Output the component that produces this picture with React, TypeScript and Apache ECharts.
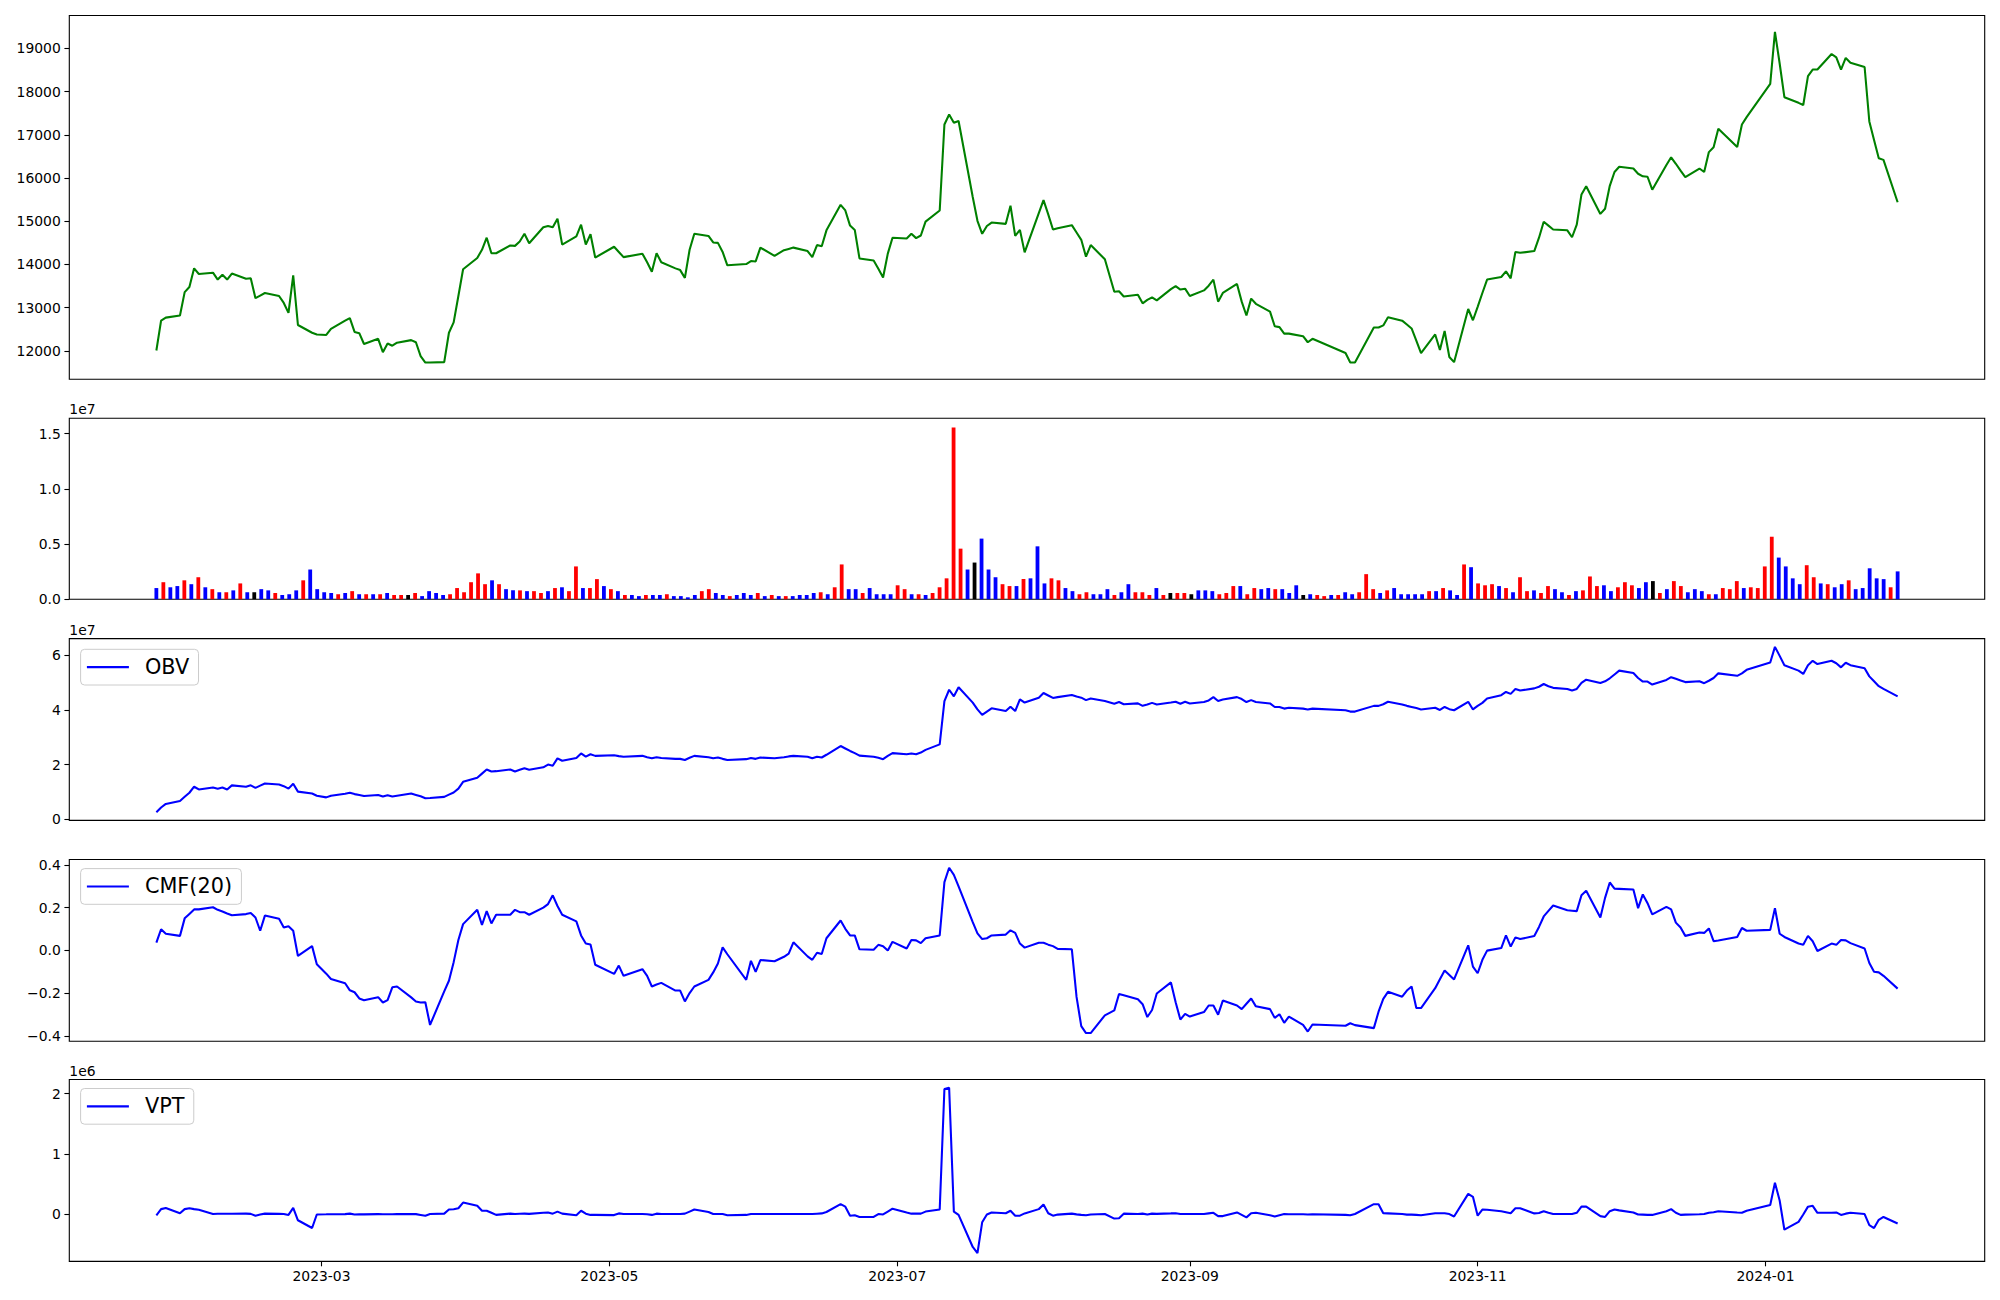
import React, { useEffect, useRef } from "react";
import * as echarts from "echarts";

// ---------- data ----------
const FIRST_DAY = "2023-01-25";
const LAST_DAY = "2024-01-29";
const KRX_HOLIDAYS = [
  "2023-03-01", "2023-05-01", "2023-05-05", "2023-05-29", "2023-06-06",
  "2023-08-15", "2023-09-28", "2023-09-29", "2023-10-02", "2023-10-03",
  "2023-10-09", "2023-12-25", "2023-12-29", "2024-01-01",
];

const CLOSE = [
  12010, 12700, 12770, 12820, 13360, 13480, 13910, 13780, 13810, 13650,
  13760, 13650, 13790, 13670, 13680, 13220, 13280, 13340, 13270, 13110,
  12880, 13750, 12600, 12420, 12380, 12370, 12510, 12700, 12760, 12440,
  12410, 12160, 12280, 11970, 12170, 12120, 12190, 12250, 12200, 11880,
  11730, 11730, 11740, 12420, 12660, 13270, 13890, 14150, 14340, 14620,
  14260, 14260, 14440, 14430, 14530, 14710, 14490, 14860, 14890, 14860,
  15060, 14460, 14650, 14920, 14460, 14700, 14160, 14410, 14290, 14170,
  14250, 14050, 13830, 14260, 14050, 13910, 13870, 13690, 14340, 14710,
  14660, 14510, 14500, 14290, 13980, 14010, 14080, 14070, 14390, 14200,
  14330, 14360, 14390, 14310, 14170, 14450, 14420, 14790, 15380, 15250,
  14900, 14800, 14140, 14090, 13900, 13700, 14250, 14620, 14600, 14710,
  14610, 14670, 14990, 15250, 17240, 17470, 17280, 17320, 15560, 15010,
  14710, 14890, 14970, 14940, 15360, 14660, 14800, 14280, 15190, 15490,
  15160, 14810, 14840, 14910, 14740, 14570, 14180, 14450, 14120, 13370,
  13380, 13260, 13300, 13100, 13180, 13240, 13170, 13430, 13500, 13420,
  13440, 13270, 13400, 13510, 13650, 13140, 13340, 13550, 13140, 12820,
  13210, 13090, 12910, 12570, 12550, 12400, 12400, 12340, 12200, 12280,
  11950, 11730, 11730, 12540, 12540, 12590, 12780, 12700, 12610, 12520,
  12240, 11950, 12380, 12020, 12460, 11860, 11740, 12970, 12710, 13020,
  13340, 13650, 13710, 13840, 13680, 14290, 14270, 14310, 14620, 14990,
  14900, 14810, 14790, 14630, 14920, 15620, 15810, 15170, 15290, 15820,
  16140, 16260, 16220, 16100, 16040, 16030, 15730, 16300, 16480, 16330,
  16170, 16020, 16220, 16140, 16600, 16710, 17140, 16720, 17240, 17410,
  18180, 19380, 18650, 17870, 17740, 17690, 18360, 18510, 18510, 18870,
  18790, 18510, 18780, 18670, 18570, 17310, 16880, 16460, 16420, 15440,
];

const VOLUME_MILLIONS = [
  1.01, 1.54, 1.08, 1.19, 1.71, 1.36, 1.99, 1.08, 0.91, 0.63,
  0.63, 0.80, 1.43, 0.63, 0.63, 0.91, 0.80, 0.56, 0.38, 0.45,
  0.80, 1.71, 2.69, 0.91, 0.63, 0.56, 0.45, 0.56, 0.73, 0.45,
  0.45, 0.45, 0.45, 0.56, 0.38, 0.38, 0.38, 0.56, 0.28, 0.73,
  0.56, 0.38, 0.45, 1.01, 0.63, 1.54, 2.34, 1.36, 1.71, 1.36,
  0.91, 0.80, 0.80, 0.73, 0.73, 0.56, 0.73, 1.01, 1.08, 0.73,
  2.97, 1.01, 1.01, 1.82, 1.19, 0.91, 0.73, 0.38, 0.38, 0.28,
  0.38, 0.38, 0.38, 0.45, 0.28, 0.28, 0.17, 0.38, 0.73, 0.91,
  0.56, 0.38, 0.28, 0.38, 0.56, 0.38, 0.56, 0.28, 0.38, 0.28,
  0.28, 0.28, 0.38, 0.38, 0.56, 0.63, 0.45, 1.08, 3.15, 0.91,
  0.91, 0.56, 1.01, 0.45, 0.45, 0.45, 1.26, 0.91, 0.45, 0.45,
  0.38, 0.56, 1.08, 1.89, 15.55, 4.58, 2.69, 3.32, 5.49, 2.69,
  1.99, 1.36, 1.19, 1.19, 1.82, 1.89, 4.79, 1.43, 1.89, 1.71,
  1.01, 0.73, 0.45, 0.63, 0.45, 0.45, 0.91, 0.38, 0.63, 1.36,
  0.63, 0.63, 0.38, 1.01, 0.38, 0.56, 0.56, 0.56, 0.45, 0.80,
  0.80, 0.73, 0.45, 0.56, 1.19, 1.19, 0.45, 1.01, 0.91, 1.01,
  0.91, 0.91, 0.56, 1.26, 0.38, 0.45, 0.38, 0.28, 0.38, 0.38,
  0.63, 0.45, 0.63, 2.27, 0.91, 0.56, 0.80, 1.01, 0.45, 0.45,
  0.45, 0.45, 0.73, 0.73, 1.01, 0.80, 0.38, 3.15, 2.90, 1.43,
  1.26, 1.36, 1.19, 1.01, 0.63, 1.99, 0.73, 0.80, 0.56, 1.19,
  0.91, 0.63, 0.38, 0.73, 0.80, 2.06, 1.19, 1.26, 0.73, 1.08,
  1.54, 1.26, 1.01, 1.54, 1.64, 0.56, 0.91, 1.64, 1.19, 0.63,
  0.91, 0.73, 0.45, 0.45, 1.01, 0.91, 1.64, 1.01, 1.08, 1.01,
  2.97, 5.66, 3.77, 2.97, 1.89, 1.36, 3.08, 1.99, 1.43, 1.36,
  1.08, 1.36, 1.71, 0.91, 1.01, 2.80, 1.89, 1.82, 1.08, 2.52,
];

// r = red, b = blue, k = black (one letter per volume bar)
const VOLUME_COLOR_CODES = [
  "brbbrbrbrb", "rbrbkbbrbb", "brbbbbrbrb", "rbrbrrkrbb", "bbrrrrrrbr",
  "bbrbrrbrbr", "rbrrbrbrbb", "rbbrbbbbrr", "bbrbbbrbrb", "rbbbbrbrrb",
  "brbbbbrrbr", "brrrrrbkbb", "brrbrbbbrr", "bbrrbbbrbb", "rrrbrkrrkb",
  "bbrrrbrrbb", "rbbbkbrrbr", "bbrrrbrbbb", "bbrbrbbrbr", "rrbrbrrbrr",
  "bbrbrrrbbr", "rrbbkrbrrb", "bbrbrrrbrr", "rrbbbbrrbr", "bbrbbbbbrb",
].join("");

const OBV_1E7 = [
  0.26, 0.43, 0.56, 0.67, 0.82, 0.97, 1.19, 1.09, 1.16, 1.12,
  1.16, 1.09, 1.24, 1.19, 1.24, 1.15, 1.23, 1.31, 1.27, 1.21,
  1.12, 1.30, 1.01, 0.94, 0.86, 0.80, 0.86, 0.93, 0.97, 0.92,
  0.89, 0.85, 0.89, 0.83, 0.88, 0.83, 0.86, 0.94, 0.89, 0.84,
  0.77, 0.78, 0.82, 0.90, 0.98, 1.12, 1.37, 1.52, 1.67, 1.82,
  1.75, 1.76, 1.82, 1.75, 1.81, 1.87, 1.81, 1.90, 2.00, 1.96,
  2.23, 2.14, 2.24, 2.41, 2.29, 2.38, 2.32, 2.34, 2.31, 2.29,
  2.32, 2.27, 2.23, 2.27, 2.24, 2.21, 2.21, 2.17, 2.25, 2.32,
  2.27, 2.23, 2.26, 2.21, 2.17, 2.20, 2.24, 2.21, 2.26, 2.23,
  2.27, 2.30, 2.32, 2.29, 2.23, 2.29, 2.26, 2.36, 2.68, 2.59,
  2.50, 2.42, 2.33, 2.29, 2.25, 2.20, 2.32, 2.42, 2.38, 2.41,
  2.38, 2.44, 2.54, 2.74, 4.32, 4.74, 4.50, 4.83, 4.27, 4.02,
  3.82, 3.94, 4.06, 3.96, 4.12, 3.96, 4.39, 4.27, 4.45, 4.62,
  4.53, 4.44, 4.47, 4.55, 4.49, 4.45, 4.36, 4.42, 4.33, 4.23,
  4.29, 4.21, 4.24, 4.15, 4.20, 4.26, 4.20, 4.27, 4.30, 4.23,
  4.30, 4.24, 4.29, 4.35, 4.47, 4.33, 4.38, 4.47, 4.40, 4.29,
  4.36, 4.29, 4.24, 4.11, 4.11, 4.05, 4.08, 4.05, 4.02, 4.05,
  3.99, 3.94, 3.94, 4.15, 4.15, 4.21, 4.30, 4.20, 4.15, 4.11,
  4.07, 4.02, 4.08, 4.00, 4.11, 4.03, 3.99, 4.30, 4.02, 4.15,
  4.26, 4.42, 4.54, 4.66, 4.59, 4.77, 4.71, 4.79, 4.85, 4.95,
  4.87, 4.81, 4.77, 4.71, 4.77, 4.99, 5.11, 4.99, 5.05, 5.16,
  5.30, 5.44, 5.35, 5.17, 5.04, 5.04, 4.93, 5.10, 5.20, 5.14,
  5.08, 5.02, 5.05, 4.98, 5.07, 5.17, 5.34, 5.25, 5.34, 5.47,
  5.74, 6.31, 5.98, 5.64, 5.44, 5.32, 5.64, 5.80, 5.68, 5.80,
  5.71, 5.56, 5.73, 5.64, 5.53, 5.23, 5.05, 4.87, 4.77, 4.50,
];

const CMF_20 = [
  0.036, 0.099, 0.078, 0.068, 0.150, 0.171, 0.192, 0.192, 0.202, 0.190,
  0.182, 0.173, 0.165, 0.170, 0.175, 0.154, 0.092, 0.163, 0.148, 0.107,
  0.113, 0.092, -0.026, 0.020, -0.065, -0.109, -0.134, -0.154, -0.187, -0.196,
  -0.225, -0.233, -0.219, -0.244, -0.233, -0.173, -0.169, -0.220, -0.239, -0.244,
  -0.243, -0.349, -0.192, -0.142, -0.055, 0.049, 0.123, 0.190, 0.119, 0.184,
  0.126, 0.167, 0.167, 0.190, 0.179, 0.179, 0.167, 0.200, 0.217, 0.258,
  0.208, 0.167, 0.136, 0.070, 0.032, 0.028, -0.067, -0.110, -0.071, -0.119,
  -0.088, -0.119, -0.169, -0.160, -0.152, -0.188, -0.188, -0.239, -0.200, -0.169,
  -0.138, -0.103, -0.061, 0.014, -0.018, -0.138, -0.049, -0.101, -0.045, -0.051,
  -0.030, -0.015, 0.038, -0.028, -0.044, -0.011, -0.017, 0.057, 0.140, 0.101,
  0.070, 0.070, 0.005, 0.003, 0.026, 0.020, -0.001, 0.040, 0.009, 0.049,
  0.047, 0.034, 0.057, 0.070, 0.320, 0.387, 0.354, 0.300, 0.132, 0.080,
  0.053, 0.057, 0.070, 0.074, 0.094, 0.082, 0.032, 0.013, 0.036, 0.036,
  0.027, 0.020, 0.007, 0.005, -0.218, -0.355, -0.387, -0.387, -0.304, -0.281,
  -0.204, -0.210, -0.229, -0.252, -0.312, -0.279, -0.202, -0.150, -0.243, -0.324,
  -0.297, -0.310, -0.289, -0.258, -0.258, -0.301, -0.235, -0.258, -0.275, -0.250,
  -0.225, -0.262, -0.275, -0.316, -0.299, -0.339, -0.310, -0.349, -0.380, -0.347,
  -0.353, -0.341, -0.350, -0.364, -0.287, -0.227, -0.194, -0.217, -0.188, -0.169,
  -0.270, -0.270, -0.177, -0.135, -0.094, -0.115, -0.136, 0.024, -0.076, -0.107,
  -0.044, -0.001, 0.011, 0.070, 0.018, 0.061, 0.053, 0.067, 0.110, 0.159,
  0.185, 0.210, 0.188, 0.186, 0.184, 0.258, 0.279, 0.154, 0.246, 0.318,
  0.289, 0.288, 0.285, 0.198, 0.262, 0.221, 0.169, 0.204, 0.192, 0.130,
  0.107, 0.068, 0.084, 0.082, 0.103, 0.043, 0.046, 0.063, 0.105, 0.092,
  0.096, 0.198, 0.078, 0.063, 0.032, 0.026, 0.068, 0.043, -0.003, 0.032,
  0.026, 0.049, 0.047, 0.034, 0.009, -0.059, -0.100, -0.103, -0.119, -0.179,
];

const VPT_1E6 = [
  -0.022, 0.081, 0.101, 0.013, 0.081, 0.095, 0.081, 0.070, -0.001, 0.003,
  0.005, 0.004, 0.005, 0.006, 0.002, -0.028, -0.010, 0.006, 0.002, -0.001,
  -0.015, 0.101, -0.104, -0.233, -0.008, -0.005, -0.003, -0.002, 0.006, -0.008,
  -0.004, -0.006, -0.002, -0.005, -0.003, -0.004, -0.002, -0.001, -0.002, -0.015,
  -0.028, -0.001, 0.006, 0.074, 0.080, 0.095, 0.190, 0.136, 0.054, 0.054,
  0.020, -0.015, 0.006, 0.000, 0.004, 0.006, 0.002, 0.020, 0.026, 0.006,
  0.040, 0.006, -0.022, 0.054, 0.006, -0.015, -0.015, -0.018, 0.010, 0.000,
  -0.001, -0.005, -0.015, 0.006, 0.000, -0.001, -0.001, 0.006, 0.040, 0.074,
  0.033, -0.001, -0.001, -0.001, -0.022, -0.015, -0.001, -0.001, -0.001, -0.001,
  -0.001, -0.001, -0.001, -0.001, -0.001, 0.005, 0.010, 0.033, 0.163, 0.122,
  -0.028, -0.022, -0.049, -0.049, -0.001, -0.008, 0.040, 0.088, 0.026, 0.006,
  0.006, 0.006, 0.040, 0.074, 2.077, 2.097, 0.040, -0.015, -0.548, -0.650,
  -0.138, -0.008, 0.026, 0.013, 0.054, -0.028, -0.028, 0.010, 0.081, 0.156,
  0.013, -0.028, -0.010, 0.006, -0.006, -0.015, -0.022, -0.008, -0.001, -0.076,
  -0.070, 0.006, -0.001, 0.006, -0.008, 0.006, 0.002, 0.010, 0.013, -0.001,
  -0.001, -0.001, -0.001, 0.010, 0.020, -0.035, -0.035, 0.026, -0.015, -0.056,
  0.013, 0.020, -0.020, -0.042, -0.020, -0.001, -0.005, -0.005, -0.008, -0.005,
  -0.015, -0.022, 0.000, 0.163, 0.163, 0.013, 0.010, -0.001, -0.010, -0.010,
  -0.015, -0.022, 0.013, 0.013, 0.013, -0.001, -0.042, 0.334, 0.286, -0.028,
  0.074, 0.070, 0.047, 0.030, 0.013, 0.095, 0.095, 0.010, 0.016, 0.047,
  0.020, -0.001, -0.001, -0.001, 0.020, 0.122, 0.122, -0.035, -0.049, 0.047,
  0.074, 0.060, 0.026, -0.008, -0.010, -0.015, -0.015, 0.047, 0.081, 0.020,
  -0.015, -0.010, -0.005, -0.001, 0.020, 0.030, 0.047, 0.025, 0.020, 0.054,
  0.149, 0.518, 0.224, -0.261, -0.131, -0.008, 0.122, 0.136, 0.020, 0.022,
  0.026, -0.015, 0.006, 0.020, -0.001, -0.186, -0.233, -0.097, -0.049, -0.158,
];

const X_TICK_DATES = ["2023-03-01", "2023-05-01", "2023-07-01", "2023-09-01", "2023-11-01", "2024-01-01"];
const PRICE_TICKS = [12000, 13000, 14000, 15000, 16000, 17000, 18000, 19000];
const VOLUME_TICKS = [0, 5e6, 1e7, 1.5e7];
const OBV_TICKS = [0, 2e7, 4e7, 6e7];
const CMF_TICKS = [-0.4, -0.2, 0, 0.2, 0.4];
const VPT_TICKS = [0, 1e6, 2e6];
const SERIES_NAMES = ["OBV", "CMF(20)", "VPT"];

// ---------- helpers ----------
const DAY = 86400000;
const toMs = (s: string) => Date.parse(s + "T00:00:00Z");

function tradingDays(): number[] {
  const hol = new Set(KRX_HOLIDAYS);
  const out: number[] = [];
  for (let t = toMs(FIRST_DAY); t <= toMs(LAST_DAY); t += DAY) {
    const d = new Date(t);
    const wd = d.getUTCDay();
    if (wd === 0 || wd === 6) continue;
    if (hol.has(d.toISOString().slice(0, 10))) continue;
    out.push(t);
  }
  return out;
}

const FONT = "DejaVu Sans";
const TICK_FONT = 13.9;
const COLOR_MAP: Record<string, string> = { r: "#ff0000", b: "#0000ff", k: "#000000" };

export default function App() {
  const ref = useRef<HTMLDivElement>(null);

  useEffect(() => {
    if (!ref.current) return;
    const chart = echarts.init(ref.current, null, { renderer: "svg" });

    const dates = tradingDays();
    const t0 = dates[0];
    const tN = dates[dates.length - 1];
    const pad = 18.45 * DAY;
    const xMin = t0 - pad;
    const xMax = tN + pad;
    const step = (tN - t0) / (VOLUME_MILLIONS.length - 1);

    const L = 69.3;
    const R = 15.3;
    const panels = [
      [15.5, 363.8],
      [418.2, 181.0],
      [638.6, 181.8],
      [859.5, 181.8],
      [1079.5, 181.9],
    ];
    const grids = panels.map(([top, height]) => ({
      left: L,
      right: R,
      top,
      height,
      show: true,
      borderColor: "#000",
      borderWidth: 1.1,
      backgroundColor: "transparent",
      containLabel: false,
    }));

    const xTickMs = X_TICK_DATES.map(toMs);
    const xAxes = panels.map((_, i) => {
      const last = i === panels.length - 1;
      return {
        type: "value",
        gridIndex: i,
        position: "bottom",
        min: xMin,
        max: xMax,
        axisLine: { show: false, onZero: false },
        splitLine: { show: false },
        axisTick: {
          show: last,
          customValues: xTickMs,
          length: 4.9,
          lineStyle: { color: "#000", width: 1.1 },
        },
        axisLabel: {
          show: last,
          customValues: xTickMs,
          margin: 8,
          color: "#000",
          fontSize: TICK_FONT,
          fontFamily: FONT,
          formatter: (v: number) => {
            const d = new Date(v);
            return d.getUTCFullYear() + "-" + String(d.getUTCMonth() + 1).padStart(2, "0");
          },
        },
      };
    });

    const yAxis = (
      i: number,
      min: number,
      max: number,
      ticks: number[],
      fmt: (v: number) => string,
      offsetText?: string
    ) => ({
      type: "value",
      gridIndex: i,
      position: "left",
      min,
      max,
      name: offsetText || "",
      nameLocation: "end",
      nameGap: 2,
      nameTextStyle: {
        align: "left",
        verticalAlign: "bottom",
        color: "#000",
        fontSize: TICK_FONT,
        fontFamily: FONT,
      },
      axisLine: { show: false, onZero: false },
      splitLine: { show: false },
      axisTick: {
        show: true,
        customValues: ticks,
        length: 4.9,
        lineStyle: { color: "#000", width: 1.1 },
      },
      axisLabel: {
        customValues: ticks,
        margin: 8.5,
        color: "#000",
        fontSize: TICK_FONT,
        fontFamily: FONT,
        formatter: fmt,
      },
    });

    const minus = (s: string) => s.replace("-", "\u2212");
    const yAxes = [
      yAxis(0, 11343, 19761, PRICE_TICKS, (v) => String(Math.round(v))),
      yAxis(1, 0, 1.64e7, VOLUME_TICKS, (v) => (v / 1e7).toFixed(1), "1e7"),
      yAxis(2, -0.0425e7, 6.6125e7, OBV_TICKS, (v) => String(Math.round(v / 1e7)), "1e7"),
      yAxis(3, -0.4257, 0.4257, CMF_TICKS, (v) => minus(v.toFixed(1))),
      yAxis(4, -0.7874e6, 2.2344e6, VPT_TICKS, (v) => String(Math.round(v / 1e6)), "1e6"),
    ];

    const lineStyleBase = { width: 2.08 };
    const priceData = CLOSE.map((v, i) => [dates[i], v]);
    const volumeData = VOLUME_MILLIONS.map((v, i) => ({
      value: [t0 + i * step, v * 1e6],
      itemStyle: { color: COLOR_MAP[VOLUME_COLOR_CODES[i]] || "#0000ff" },
    }));
    const obvData = OBV_1E7.map((v, i) => [dates[i], v * 1e7]);
    const cmfData = CMF_20.map((v, i) => [dates[i], v]);
    const vptData = VPT_1E6.map((v, i) => [dates[i], v * 1e6]);

    const legendTops = [649.3, 868.6, 1088.5];
    const legends = SERIES_NAMES.map((name, i) => ({
      data: [name],
      left: 80.6,
      top: legendTops[i],
      orient: "horizontal",
      selectedMode: false,
      icon: "rect",
      itemWidth: 42,
      itemHeight: 2.1,
      itemGap: 0,
      padding: [5.6, 9.4, 5.6, 6.3],
      backgroundColor: "rgba(255,255,255,0.8)",
      borderColor: "#cccccc",
      borderWidth: 1,
      borderRadius: 4,
      textStyle: {
        color: "#000",
        fontSize: 20.8,
        fontFamily: FONT,
        lineHeight: 24.5,
        padding: [0, 0, 0, 11],
      },
    }));

    const option = {
      animation: false,
      backgroundColor: "#ffffff",
      textStyle: { fontFamily: FONT },
      grid: grids,
      xAxis: xAxes,
      yAxis: yAxes,
      legend: legends,
      series: [
        {
          type: "line",
          name: "Close",
          xAxisIndex: 0,
          yAxisIndex: 0,
          data: priceData,
          symbol: "none",
          color: "#008000",
          lineStyle: { ...lineStyleBase, color: "#008000" },
          silent: true,
        },
        {
          type: "bar",
          name: "Volume",
          xAxisIndex: 1,
          yAxisIndex: 1,
          data: volumeData,
          barWidth: 3.8,
          silent: true,
        },
        {
          type: "line",
          name: "OBV",
          xAxisIndex: 2,
          yAxisIndex: 2,
          data: obvData,
          symbol: "none",
          color: "#0000ff",
          lineStyle: { ...lineStyleBase, color: "#0000ff" },
          silent: true,
        },
        {
          type: "line",
          name: "CMF(20)",
          xAxisIndex: 3,
          yAxisIndex: 3,
          data: cmfData,
          symbol: "none",
          color: "#0000ff",
          lineStyle: { ...lineStyleBase, color: "#0000ff" },
          silent: true,
        },
        {
          type: "line",
          name: "VPT",
          xAxisIndex: 4,
          yAxisIndex: 4,
          data: vptData,
          symbol: "none",
          color: "#0000ff",
          lineStyle: { ...lineStyleBase, color: "#0000ff" },
          silent: true,
        },
      ],
    };

    chart.setOption(option as any);
    return () => chart.dispose();
  }, []);

  return (
    <div
      ref={ref}
      style={{ position: "fixed", left: 0, top: 0, width: 2000, height: 1300, background: "#fff" }}
    />
  );
}
